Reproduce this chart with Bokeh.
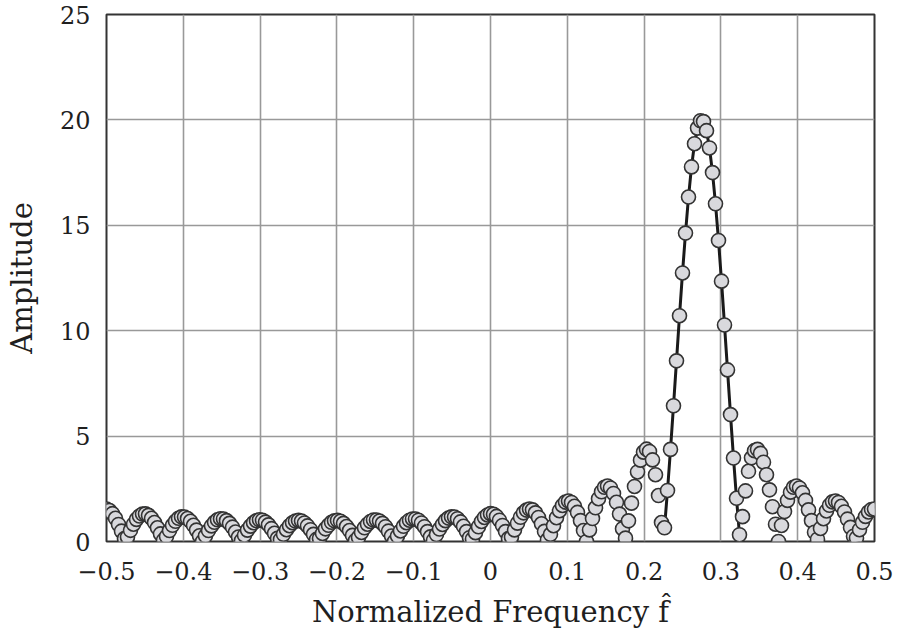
import numpy as np
from bokeh.plotting import figure
from bokeh.models import Range1d, FixedTicker, CustomJSTickFormatter, ColumnDataSource
from bokeh.embed import file_html
from bokeh.resources import INLINE

# ---- data ----
x_ticks = [-0.5, -0.4, -0.3, -0.2, -0.1, 0.0, 0.1, 0.2, 0.3, 0.4, 0.5]
y_ticks = [0, 5, 10, 15, 20, 25]

# DFT sample frequencies: 257 evenly spaced bins from -0.5 to 0.5
freq = np.linspace(-0.5, 0.5, 257)

amplitude = [
    1.54, 1.47, 1.32, 1.10, 0.81, 0.49, 0.14, 0.21, 0.53, 0.82,
    1.05, 1.21, 1.30, 1.31, 1.24, 1.10, 0.90, 0.65, 0.36, 0.06,
    0.24, 0.52, 0.77, 0.96, 1.10, 1.17, 1.16, 1.09, 0.96, 0.77,
    0.54, 0.27, 0.00, 0.27, 0.52, 0.74, 0.91, 1.03, 1.08, 1.07,
    0.99, 0.86, 0.68, 0.45, 0.21, 0.05, 0.30, 0.54, 0.73, 0.89,
    0.99, 1.03, 1.01, 0.92, 0.79, 0.61, 0.39, 0.15, 0.10, 0.34,
    0.56, 0.75, 0.89, 0.97, 1.00, 0.97, 0.88, 0.74, 0.56, 0.34,
    0.10, 0.15, 0.38, 0.60, 0.77, 0.91, 0.98, 1.00, 0.96, 0.86,
    0.71, 0.52, 0.29, 0.05, 0.20, 0.43, 0.65, 0.82, 0.95, 1.02,
    1.02, 0.97, 0.86, 0.70, 0.49, 0.26, 0.00, 0.26, 0.50, 0.72,
    0.89, 1.01, 1.07, 1.07, 1.01, 0.88, 0.70, 0.47, 0.22, 0.06,
    0.33, 0.59, 0.81, 0.99, 1.11, 1.17, 1.16, 1.08, 0.93, 0.72,
    0.47, 0.18, 0.12, 0.42, 0.70, 0.95, 1.14, 1.26, 1.32, 1.29,
    1.19, 1.01, 0.76, 0.47, 0.14, 0.21, 0.55, 0.87, 1.15, 1.36,
    1.49, 1.54, 1.50, 1.36, 1.14, 0.84, 0.48, 0.08, 0.34, 0.75,
    1.13, 1.46, 1.71, 1.87, 1.92, 1.85, 1.67, 1.38, 0.99, 0.52,
    0.00, 0.55, 1.09, 1.60, 2.03, 2.36, 2.57, 2.63, 2.54, 2.28,
    1.86, 1.30, 0.61, 0.16, 0.98, 1.82, 2.61, 3.30, 3.86, 4.24,
    4.38, 4.27, 3.87, 3.17, 2.18, 0.90, 0.65, 2.42, 4.37, 6.44,
    8.57, 10.71, 12.74, 14.63, 16.34, 17.77, 18.87, 19.61, 19.96, 19.92,
    19.49, 18.67, 17.50, 16.02, 14.28, 12.35, 10.27, 8.14, 6.02, 3.96,
    2.05, 0.32, 1.18, 2.40, 3.33, 3.97, 4.31, 4.37, 4.18, 3.76,
    3.17, 2.45, 1.65, 0.82, 0.00, 0.76, 1.42, 1.95, 2.34, 2.57,
    2.63, 2.54, 2.31, 1.95, 1.50, 0.99, 0.44, 0.11, 0.62, 1.08,
    1.45, 1.72, 1.88, 1.92, 1.85, 1.67, 1.40, 1.06, 0.67, 0.25,
    0.17, 0.56, 0.91, 1.19, 1.40, 1.52, 1.54,
]

# main lobe (drawn as a solid curve under the samples)
lobe_start, lobe_stop = 186, 212

FONT = "DejaVu Serif"
TEXT = "#1f1f1f"

p = figure(width=900, height=631, output_backend="svg", toolbar_location=None,
           x_range=Range1d(-0.5, 0.5), y_range=Range1d(0, 25),
           min_border_left=106, min_border_right=26, min_border_top=14,
           min_border_bottom=90)
p.background_fill_color = "white"
p.border_fill_color = "white"
p.outline_line_color = "#333333"
p.outline_line_width = 2

src = ColumnDataSource(dict(f=freq, a=amplitude))
lobe = ColumnDataSource(dict(f=freq[lobe_start:lobe_stop],
                             a=amplitude[lobe_start:lobe_stop]))

p.line("f", "a", source=lobe, line_color="#1a1a1a", line_width=3)
p.scatter("f", "a", source=src, size=14, marker="circle",
          fill_color="#d9d9dd", line_color="#333333", line_width=1.6)

p.xaxis.ticker = FixedTicker(ticks=x_ticks)
p.yaxis.ticker = FixedTicker(ticks=y_ticks)
p.xaxis.formatter = CustomJSTickFormatter(code="""
    if (Math.abs(tick) < 1e-9) return '0';
    const s = Math.abs(tick).toFixed(1);
    return (tick < 0 ? '\\u2212' : '') + s;
""")

for ax in (p.xaxis[0], p.yaxis[0]):
    ax.axis_line_color = None
    ax.major_tick_line_color = None
    ax.minor_tick_line_color = None
    ax.major_label_text_font = FONT
    ax.major_label_text_font_size = "24px"
    ax.major_label_text_color = TEXT
    ax.axis_label_text_font = FONT
    ax.axis_label_text_font_size = "29px"
    ax.axis_label_text_font_style = "normal"
    ax.axis_label_text_color = TEXT

p.xaxis.axis_label = "Normalized Frequency f\u0302"
p.yaxis.axis_label = "Amplitude"
p.xaxis.major_label_standoff = 14
p.yaxis.major_label_standoff = 10
p.xaxis.axis_label_standoff = 12
p.yaxis.axis_label_standoff = 18

p.xgrid.grid_line_color = "#999999"
p.ygrid.grid_line_color = "#999999"
p.xgrid.grid_line_width = 1.6
p.ygrid.grid_line_width = 1.6

open("out.html", "w").write(file_html(p, INLINE))
